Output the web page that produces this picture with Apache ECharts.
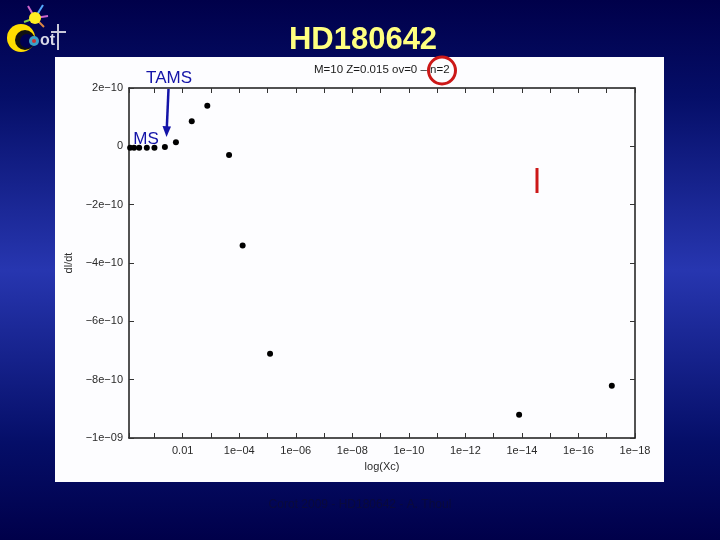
<!DOCTYPE html>
<html><head><meta charset="utf-8">
<script src="https://cdn.jsdelivr.net/npm/echarts@6/dist/echarts.min.js"></script>
<style>html,body{margin:0;padding:0;background:#000050}#c{width:720px;height:540px}</style>
</head><body><div id="c"></div>
<script>
// Data: x = log10(Xc), y = dl/dt
const logXc = [-0.14, -0.28, -0.46, -0.73, -1.00, -1.37, -1.76, -2.32, -2.87, -3.64, -4.12, -5.09, -13.90, -17.18];
const dldt  = [-0.05e-10, -0.05e-10, -0.05e-10, -0.05e-10, -0.05e-10, -0.02e-10, 0.14e-10, 0.86e-10, 1.39e-10, -0.30e-10, -3.40e-10, -7.11e-10, -9.20e-10, -8.21e-10];

const xTickValues = [-2, -4, -6, -8, -10, -12, -14, -16, -18];
const xTickText   = ['0.01', '1e\u221204', '1e\u221206', '1e\u221208', '1e\u221210', '1e\u221212', '1e\u221214', '1e\u221216', '1e\u221218'];
const yTickValues = [2, 0, -2, -4, -6, -8, -10]; // units of 1e-10
const yTickText   = ['2e\u221210', '0', '\u22122e\u221210', '\u22124e\u221210', '\u22126e\u221210', '\u22128e\u221210', '\u22121e\u221209'];

const plotTitle = 'M=10 Z=0.015 ov=0 \u2013 n=2';
const slideTitle = 'HD180642';
const footer = 'Corot 2009 - HD180642 - A. Thoul';

const chart = echarts.init(document.getElementById('c'));

function xFmt(v){
  const k = Math.round(v);
  if (Math.abs(v - k) > 1e-6) return '';
  const i = xTickValues.indexOf(k);
  return i >= 0 ? xTickText[i] : '';
}
function yFmt(v){
  const k = Math.round(v / 1e-10);
  const i = yTickValues.indexOf(k);
  return i >= 0 ? yTickText[i] : '';
}

const axisLine = {show: true, onZero: false, lineStyle: {color: '#1a1a1a', width: 1.5}};
const tick = {show: true, inside: true, length: 5, lineStyle: {color: '#333', width: 1}};
const lblStyle = {color: '#2a2a2a', fontSize: 11, fontFamily: 'Liberation Sans, Arial, sans-serif'};

const xBase = {type: 'value', min: -18, max: -0.1, interval: 1, inverse: true, splitLine: {show: false}, axisLine: axisLine, axisTick: Object.assign({interval: 0}, tick)};
const yBase = {type: 'value', min: -1e-9, max: 2e-10, interval: 2e-10, splitLine: {show: false}, axisLine: axisLine, axisTick: tick};

const points = logXc.map((x, i) => [x, dldt[i]]);

const navy = '#00004e';
chart.setOption({
  animation: false,
  backgroundColor: navy,
  grid: {left: 129, right: 85, top: 88, bottom: 102},
  xAxis: [
    Object.assign({}, xBase, {position: 'bottom', name: 'log(Xc)', nameLocation: 'middle', nameGap: 23,
      nameTextStyle: {color: '#2a2a2a', fontSize: 11, fontFamily: 'Liberation Sans, Arial, sans-serif'},
      axisLabel: Object.assign({formatter: xFmt, margin: 7}, lblStyle)}),
    Object.assign({}, xBase, {position: 'top', axisLabel: {show: false}})
  ],
  yAxis: [
    Object.assign({}, yBase, {position: 'left', name: 'dl/dt', nameLocation: 'middle', nameGap: 55, nameRotate: 90,
      nameTextStyle: {color: '#2a2a2a', fontSize: 11, fontFamily: 'Liberation Sans, Arial, sans-serif'},
      axisLabel: Object.assign({formatter: yFmt, margin: 6}, lblStyle)}),
    Object.assign({}, yBase, {position: 'right', axisLabel: {show: false}})
  ],
  series: [{
    type: 'scatter', xAxisIndex: 0, yAxisIndex: 0, data: points,
    symbolSize: 6, itemStyle: {color: '#000', opacity: 1}
  }],
  graphic: [
    {type: 'rect', z: -20, silent: true, shape: {x: 0, y: 0, width: 720, height: 540},
      style: {fill: {type: 'linear', x: 0, y: 0, x2: 0, y2: 1, colorStops: [
        {offset: 0, color: '#00004a'}, {offset: 0.18, color: '#050e68'}, {offset: 0.5, color: '#2736b0'},
        {offset: 0.82, color: '#050e68'}, {offset: 1, color: '#00004a'}]}}},
    {type: 'rect', z: -10, silent: true, shape: {x: 55, y: 57, width: 609, height: 425}, style: {fill: '#fdfdff'}},
    {type: 'text', z: 50, x: 363, y: 40, style: {text: slideTitle, align: 'center', verticalAlign: 'middle',
      font: 'bold 31px "Liberation Sans", Arial, sans-serif', fill: '#ffff80'}},
    {type: 'text', z: 50, x: 314, y: 70, style: {text: plotTitle, align: 'left', verticalAlign: 'middle',
      font: '11.5px "Liberation Sans", Arial, sans-serif', fill: '#1a1a1a'}},
    {type: 'circle', z: 60, shape: {cx: 442, cy: 70.5, r: 13.5}, style: {fill: null, stroke: '#cc1818', lineWidth: 3}},
    {type: 'line', z: 60, shape: {x1: 537, y1: 168, x2: 537, y2: 193}, style: {stroke: '#cc1818', lineWidth: 3}},
    {type: 'text', z: 60, x: 169, y: 78, style: {text: 'TAMS', align: 'center', verticalAlign: 'middle',
      font: '17px "Liberation Sans", Arial, sans-serif', fill: '#1414a8'}},
    {type: 'text', z: 60, x: 146, y: 139, style: {text: 'MS', align: 'center', verticalAlign: 'middle',
      font: '17px "Liberation Sans", Arial, sans-serif', fill: '#1414a8'}},
    {type: 'line', z: 60, shape: {x1: 168.5, y1: 89, x2: 166.8, y2: 128}, style: {stroke: '#1414a8', lineWidth: 2.5}},
    {type: 'polygon', z: 60, shape: {points: [[162.5, 126], [171, 126.5], [166.5, 137]]}, style: {fill: '#1414a8'}},
    {type: 'text', z: 50, x: 360, y: 505, style: {text: footer, align: 'center', verticalAlign: 'middle',
      font: '12px "Liberation Sans", Arial, sans-serif', fill: '#0a0a3c'}},
    // logo
    {type: 'line', z: 40, shape: {x1: 35, y1: 18, x2: 28, y2: 6}, style: {stroke: '#cc66cc', lineWidth: 2}},
    {type: 'line', z: 40, shape: {x1: 35, y1: 18, x2: 43, y2: 5}, style: {stroke: '#55aaff', lineWidth: 2}},
    {type: 'line', z: 40, shape: {x1: 35, y1: 18, x2: 48, y2: 16}, style: {stroke: '#cc66cc', lineWidth: 2}},
    {type: 'line', z: 40, shape: {x1: 35, y1: 18, x2: 44, y2: 27}, style: {stroke: '#dd8844', lineWidth: 2}},
    {type: 'line', z: 40, shape: {x1: 35, y1: 18, x2: 24, y2: 22}, style: {stroke: '#88cc44', lineWidth: 2}},
    {type: 'circle', z: 41, shape: {cx: 35, cy: 18, r: 6}, style: {fill: '#ffee22'}},
    {type: 'circle', z: 40, shape: {cx: 21, cy: 38, r: 14}, style: {fill: '#ffdd00'}},
    {type: 'circle', z: 41, shape: {cx: 25, cy: 40, r: 10}, style: {fill: '#111111'}},
    {type: 'circle', z: 42, shape: {cx: 27, cy: 41, r: 7}, style: {fill: '#000050'}},
    {type: 'circle', z: 43, shape: {cx: 34, cy: 41, r: 5}, style: {fill: '#3aa0c8'}},
    {type: 'circle', z: 44, shape: {cx: 34, cy: 41, r: 2}, style: {fill: '#cc3333'}},
    {type: 'text', z: 44, x: 40, y: 41, style: {text: 'ot', align: 'left', verticalAlign: 'middle',
      font: 'bold 16px "Liberation Sans", Arial, sans-serif', fill: '#d8d8e8'}},
    {type: 'line', z: 44, shape: {x1: 58, y1: 24, x2: 58, y2: 50}, style: {stroke: '#c8c8d8', lineWidth: 2}},
    {type: 'line', z: 44, shape: {x1: 51, y1: 32, x2: 66, y2: 32}, style: {stroke: '#c8c8d8', lineWidth: 2}}
  ]
});
</script>
</body></html>
